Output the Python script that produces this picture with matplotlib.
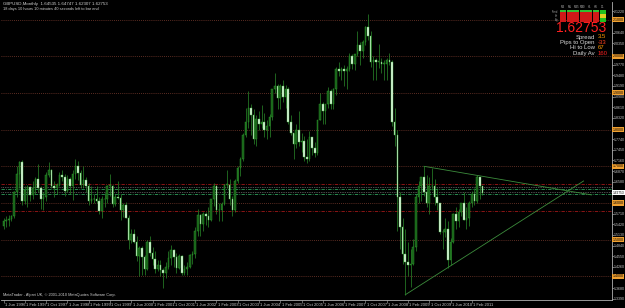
import numpy as np
import matplotlib.pyplot as plt

# GBPUSD monthly candles, Jun 1996 .. Jun 2011
opens = [
    1.537, 1.552, 1.555, 1.556, 1.564, 1.630, 1.680,  # 1996
    1.711, 1.605, 1.635, 1.644, 1.623, 1.642, 1.666, 1.640, 1.610, 1.615, 1.675, 1.690,  # 1997
    1.645, 1.640, 1.650, 1.677, 1.672, 1.633, 1.665, 1.645, 1.678, 1.700, 1.682, 1.650,  # 1998
    1.663, 1.645, 1.605, 1.612, 1.610, 1.605, 1.577, 1.612, 1.610, 1.646, 1.646, 1.596,  # 1999
    1.616, 1.614, 1.582, 1.594, 1.560, 1.500, 1.516, 1.495, 1.455, 1.478, 1.452, 1.420,  # 2000
    1.494, 1.465, 1.447, 1.420, 1.431, 1.418, 1.409, 1.425, 1.451, 1.472, 1.454, 1.424,  # 2001
    1.455, 1.410, 1.421, 1.425, 1.459, 1.462, 1.525, 1.567, 1.542, 1.570, 1.565, 1.555,  # 2002
    1.610, 1.645, 1.580, 1.580, 1.596, 1.650, 1.650, 1.610, 1.580, 1.660, 1.695, 1.720,  # 2003
    1.785, 1.820, 1.860, 1.840, 1.775, 1.830, 1.815, 1.820, 1.800, 1.810, 1.835, 1.910,  # 2004
    1.920, 1.885, 1.920, 1.890, 1.910, 1.820, 1.790, 1.760, 1.800, 1.765, 1.770, 1.725,  # 2005
    1.720, 1.780, 1.750, 1.735, 1.825, 1.870, 1.850, 1.870, 1.905, 1.870, 1.910, 1.965,  # 2006
    1.960, 1.965, 1.960, 1.965, 2.000, 1.980, 2.005, 2.030, 2.015, 2.040, 2.080, 2.055,  # 2007
    1.985, 1.990, 1.985, 1.985, 1.980, 1.980, 1.990, 1.985, 1.820, 1.785, 1.615, 1.535,  # 2008
    1.460, 1.440, 1.430, 1.435, 1.480, 1.615, 1.645, 1.670, 1.630, 1.600, 1.645, 1.645,  # 2009
    1.615, 1.600, 1.522, 1.520, 1.530, 1.445, 1.495, 1.570, 1.550, 1.575, 1.600, 1.555,  # 2010
    1.560, 1.600, 1.625, 1.605, 1.670, 1.645,  # 2011
]
highs = [
    1.558, 1.565, 1.566, 1.566, 1.633, 1.700, 1.715,
    1.716, 1.645, 1.650, 1.645, 1.660, 1.672, 1.705, 1.645, 1.630, 1.685, 1.712, 1.692,
    1.660, 1.655, 1.685, 1.690, 1.680, 1.675, 1.670, 1.690, 1.720, 1.715, 1.690, 1.700,
    1.670, 1.654, 1.645, 1.625, 1.645, 1.615, 1.620, 1.628, 1.650, 1.680, 1.650, 1.625,
    1.660, 1.625, 1.600, 1.603, 1.567, 1.528, 1.530, 1.510, 1.483, 1.482, 1.458, 1.500,
    1.510, 1.480, 1.470, 1.445, 1.445, 1.424, 1.440, 1.470, 1.485, 1.475, 1.463, 1.460,
    1.458, 1.432, 1.440, 1.460, 1.470, 1.534, 1.584, 1.569, 1.575, 1.575, 1.590, 1.612,
    1.655, 1.648, 1.600, 1.603, 1.651, 1.690, 1.665, 1.620, 1.665, 1.700, 1.725, 1.790,
    1.860, 1.905, 1.870, 1.855, 1.840, 1.850, 1.868, 1.846, 1.825, 1.843, 1.910, 1.955,
    1.925, 1.925, 1.935, 1.922, 1.915, 1.840, 1.790, 1.815, 1.850, 1.790, 1.782, 1.775,
    1.795, 1.780, 1.765, 1.825, 1.900, 1.875, 1.870, 1.915, 1.910, 1.913, 1.970, 1.985,
    1.970, 1.975, 1.973, 2.010, 2.005, 2.007, 2.068, 2.040, 2.045, 2.083, 2.116, 2.070,
    2.000, 1.995, 2.034, 1.995, 1.990, 1.995, 2.010, 1.990, 1.860, 1.800, 1.630, 1.560,
    1.530, 1.495, 1.475, 1.502, 1.625, 1.660, 1.670, 1.700, 1.675, 1.670, 1.695, 1.665,
    1.640, 1.600, 1.530, 1.560, 1.550, 1.505, 1.572, 1.590, 1.584, 1.600, 1.630, 1.590,
    1.605, 1.634, 1.640, 1.675, 1.670, 1.647,
]
lows = [
    1.530, 1.535, 1.538, 1.550, 1.560, 1.615, 1.640,
    1.595, 1.596, 1.590, 1.605, 1.610, 1.625, 1.630, 1.585, 1.580, 1.605, 1.670, 1.640,
    1.615, 1.625, 1.645, 1.660, 1.620, 1.630, 1.625, 1.607, 1.665, 1.663, 1.640, 1.640,
    1.630, 1.595, 1.600, 1.600, 1.600, 1.570, 1.560, 1.590, 1.600, 1.620, 1.590, 1.592,
    1.610, 1.555, 1.562, 1.560, 1.476, 1.490, 1.490, 1.443, 1.400, 1.405, 1.405, 1.418,
    1.455, 1.430, 1.410, 1.415, 1.400, 1.368, 1.395, 1.420, 1.430, 1.425, 1.410, 1.420,
    1.405, 1.405, 1.405, 1.422, 1.435, 1.450, 1.510, 1.510, 1.525, 1.540, 1.535, 1.550,
    1.593, 1.570, 1.550, 1.550, 1.595, 1.640, 1.595, 1.565, 1.575, 1.655, 1.674, 1.714,
    1.780, 1.805, 1.785, 1.760, 1.755, 1.800, 1.805, 1.780, 1.775, 1.780, 1.825, 1.900,
    1.855, 1.855, 1.875, 1.860, 1.815, 1.785, 1.720, 1.750, 1.755, 1.740, 1.715, 1.710,
    1.715, 1.730, 1.725, 1.730, 1.825, 1.815, 1.815, 1.860, 1.855, 1.855, 1.895, 1.945,
    1.935, 1.920, 1.910, 1.960, 1.965, 1.963, 2.000, 1.975, 1.995, 2.030, 2.045, 1.970,
    1.936, 1.935, 1.968, 1.955, 1.936, 1.935, 1.975, 1.810, 1.755, 1.525, 1.476, 1.435,
    1.350, 1.400, 1.372, 1.430, 1.470, 1.600, 1.605, 1.620, 1.590, 1.570, 1.635, 1.595,
    1.580, 1.515, 1.475, 1.508, 1.423, 1.430, 1.490, 1.530, 1.535, 1.565, 1.553, 1.530,
    1.537, 1.590, 1.595, 1.600, 1.610, 1.623,
]
closes = [
    1.552, 1.555, 1.556, 1.564, 1.630, 1.680, 1.711,
    1.605, 1.635, 1.644, 1.623, 1.642, 1.666, 1.640, 1.610, 1.615, 1.675, 1.690, 1.645,
    1.640, 1.650, 1.677, 1.672, 1.633, 1.665, 1.645, 1.678, 1.700, 1.682, 1.650, 1.663,
    1.645, 1.605, 1.612, 1.610, 1.605, 1.577, 1.612, 1.610, 1.646, 1.646, 1.596, 1.616,
    1.614, 1.582, 1.594, 1.560, 1.500, 1.516, 1.495, 1.455, 1.478, 1.452, 1.420, 1.494,
    1.465, 1.447, 1.420, 1.431, 1.418, 1.409, 1.425, 1.451, 1.472, 1.454, 1.424, 1.455,
    1.410, 1.421, 1.425, 1.459, 1.462, 1.525, 1.567, 1.542, 1.570, 1.565, 1.555, 1.610,
    1.645, 1.580, 1.580, 1.596, 1.650, 1.650, 1.610, 1.580, 1.660, 1.695, 1.720, 1.785,
    1.820, 1.860, 1.840, 1.775, 1.830, 1.815, 1.820, 1.800, 1.810, 1.835, 1.910, 1.920,
    1.885, 1.920, 1.890, 1.910, 1.820, 1.790, 1.760, 1.800, 1.765, 1.770, 1.725, 1.720,
    1.780, 1.750, 1.735, 1.825, 1.870, 1.850, 1.870, 1.905, 1.870, 1.910, 1.965, 1.960,
    1.965, 1.960, 1.965, 2.000, 1.980, 2.005, 2.030, 2.015, 2.040, 2.080, 2.055, 1.985,
    1.990, 1.985, 1.985, 1.980, 1.980, 1.990, 1.985, 1.820, 1.785, 1.615, 1.535, 1.460,
    1.440, 1.430, 1.435, 1.480, 1.615, 1.645, 1.670, 1.630, 1.600, 1.645, 1.645, 1.615,
    1.600, 1.522, 1.520, 1.530, 1.445, 1.495, 1.570, 1.550, 1.575, 1.600, 1.555, 1.560,
    1.600, 1.625, 1.605, 1.670, 1.645, 1.62753,
]

date_labels = ['1 Jun 1996', '1 Feb 1997', '1 Oct 1997', '1 Jun 1998', '1 Feb 1999',
               '1 Oct 1999', '1 Jun 2000', '1 Feb 2001', '1 Oct 2001', '1 Jun 2002',
               '1 Feb 2003', '1 Oct 2003', '1 Jun 2004', '1 Feb 2005', '1 Oct 2005',
               '1 Jun 2006', '1 Feb 2007', '1 Oct 2007', '1 Jun 2008', '1 Feb 2009',
               '1 Oct 2009', '1 Jun 2010', '1 Feb 2011']
date_pos = [0, 8, 16, 24, 32, 40, 48, 56, 64, 72, 80, 88, 96, 104, 112, 120,
            128, 136, 144, 152, 160, 168, 176]

round_levels = [1.4, 1.5, 1.6, 1.7, 1.8, 1.9, 2.0, 2.1]
red_levels = [1.652, 1.578]
green_levels = [1.638, 1.6245]
grey_levels = [1.6436, 1.630]
price_ticks = [1.3390, 1.3680, 1.4260, 1.4550, 1.4840, 1.5130, 1.5420,
               1.5710, 1.6580, 1.6870, 1.7160, 1.7450, 1.7740,
               1.8320, 1.8610, 1.8900, 1.9190, 1.9480, 1.9770,
               2.0350, 2.0640, 2.1220]
# triangle trendlines (month index, price)
upper_line = ([158, 221], [1.700, 1.622])
lower_line = ([151, 218], [1.350, 1.660])

last_price = 1.62753
info_labels = ['Spread', 'Pips to Open', 'Hi to Low', 'Daily Av']
info_values = ['3.5', '-33', '67', '160']
info_colors = ['#ff9900', '#ff4020', '#ff9900', '#ff2020']
tf_labels = ['M1', 'M5', 'M15', 'M30', 'H1', 'H4', 'D1']

plt.rcParams['font.family'] = ['Liberation Sans', 'DejaVu Sans']

fig = plt.figure(figsize=(6.25, 3.08), dpi=100, facecolor='black')
ax = fig.add_axes([0.5 / 625, 8 / 308, 611 / 625, 298 / 308])
ax.set_facecolor('black')

x = np.arange(len(closes))
o = np.array(opens)
c = np.array(closes)
up = c >= o

# wicks and bodies
ax.vlines(x, lows, highs, color='#2a8a2a', lw=0.5, zorder=3)
body_lo = np.minimum(o, c)
body_h = np.maximum(np.abs(c - o), 0.002)
ax.bar(x[up], body_h[up], bottom=body_lo[up], width=0.6,
       color='#175c17', edgecolor='#2f9f2f', lw=0.3, zorder=4)
ax.bar(x[~up], body_h[~up], bottom=body_lo[~up], width=0.6,
       color='#e0f8e0', edgecolor='#4cb84c', lw=0.3, zorder=4)

# horizontal levels
for lv in round_levels:
    ax.axhline(lv, color='#7a3b2e', lw=0.6, ls=(0, (1, 1.5)), zorder=1)
for lv in red_levels:
    ax.axhline(lv, color='#a01818', lw=0.6, ls=(0, (4, 1.5, 1, 1.5)), zorder=1)
for lv in green_levels:
    ax.axhline(lv, color='#2e9e5a', lw=0.6, ls=(0, (4, 1.5, 1, 1.5)), zorder=1)
for lv in grey_levels:
    ax.axhline(lv, color='#9a9a9a', lw=0.5, ls=(0, (1, 1.5)), zorder=1)

ax.plot(*upper_line, color='#3c8c3c', lw=0.6, zorder=2)
ax.plot(*lower_line, color='#3c8c3c', lw=0.6, zorder=2)

ax.set_xlim(-1.13, 228.5)
ax.set_ylim(1.3357, 2.1477)

# axes styling
for s in ['top', 'left']:
    ax.spines[s].set_visible(False)
for s in ['right', 'bottom']:
    ax.spines[s].set_color('#b0b0b0')
    ax.spines[s].set_linewidth(0.6)
ax.yaxis.tick_right()
ax.set_yticks(price_ticks)
ax.set_yticklabels(['%.4f' % t for t in price_ticks])
ax.tick_params(axis='y', colors='#c8c8c8', labelsize=2.6, length=1.2, width=0.4, pad=0.6)
ax.set_xticks(date_pos)
ax.set_xticklabels([])
ax.tick_params(axis='x', colors='#b0b0b0', length=2.5, width=0.4, direction='out')
trans = ax.get_xaxis_transform()
for p, lab in zip(date_pos, date_labels):
    ax.text(p + 0.5, -0.01, lab, transform=trans, color='#c8c8c8', fontsize=3.0,
            ha='left', va='top', clip_on=False)

# price tags on the right axis
ytr = ax.get_yaxis_transform()
for lv in round_levels:
    ax.text(1.002, lv, '%.4f' % lv, transform=ytr, fontsize=2.6, color='black',
            ha='left', va='center', clip_on=False, zorder=6,
            bbox=dict(boxstyle='square,pad=0.15', fc='#f0a030', ec='none'))
ax.text(1.002, last_price, '%.5f' % last_price, transform=ytr, fontsize=2.3,
        color='black', ha='left', va='center', clip_on=False, zorder=6,
        bbox=dict(boxstyle='square,pad=0.15', fc='white', ec='none'))

# header texts
fig.text(3 / 625, 1 - 2 / 308, 'GBPUSD,Monthly  1.64535 1.64747 1.62307 1.62753',
         color='#d0d0d0', fontsize=3.2, ha='left', va='top')
fig.text(3 / 625, 1 - 7 / 308, '18 days 10 hours 10 minutes 40 seconds left to bar end',
         color='#d0d0d0', fontsize=2.8, ha='left', va='top')
fig.text(3 / 625, 1 - 297 / 308,
         'MetaTrader - Alpari UK, \u00a9 2001-2010 MetaQuotes Software Corp.',
         color='#d0d0d0', fontsize=2.8, ha='left', va='bottom')

# timeframe grid widget
for j, tf in enumerate(tf_labels):
    x0 = 560 + j * 6.6
    fig.text((x0 + 3) / 625, 1 - 9.5 / 308, tf, color='#b0b0b0', fontsize=2.0,
             ha='center', va='bottom')
    for r in range(3):
        y0 = 10.5 + r * 4.0
        if j == 6:
            fc = ['#20c020', '#e0d020', '#20c020'][r]
        else:
            fc = '#d01818'
        fig.patches.append(plt.Rectangle((x0 / 625, 1 - (y0 + 3.4) / 308),
                                         6.0 / 625, 3.4 / 308, fc=fc, ec='none',
                                         transform=fig.transFigure, figure=fig))
    if j < 6:
        fig.patches.append(plt.Rectangle((x0 / 625, 1 - 11.5 / 308),
                                         6.0 / 625, 1.0 / 308, fc='#30c030', ec='none',
                                         transform=fig.transFigure, figure=fig))
for r, lab in enumerate(['Trend', 'Str', 'Sig']):
    fig.text(558 / 625, 1 - (12.2 + r * 4.0) / 308, lab, color='#a0a0a0',
             fontsize=1.8, ha='right', va='center')

fig.text(581 / 625, 1 - 28 / 308, '%.5f' % last_price, color='#ff2020',
         fontsize=10, ha='center', va='center')
for k, (lab, val, col) in enumerate(zip(info_labels, info_values, info_colors)):
    yy = 1 - (37 + k * 5.4) / 308
    fig.text(595 / 625, yy, lab, color='#d8d8d8', fontsize=4.3, ha='right', va='center')
    fig.text(598 / 625, yy, val, color=col, fontsize=4.3, ha='left', va='center')

fig.savefig('out.png', dpi=100, facecolor='black')
